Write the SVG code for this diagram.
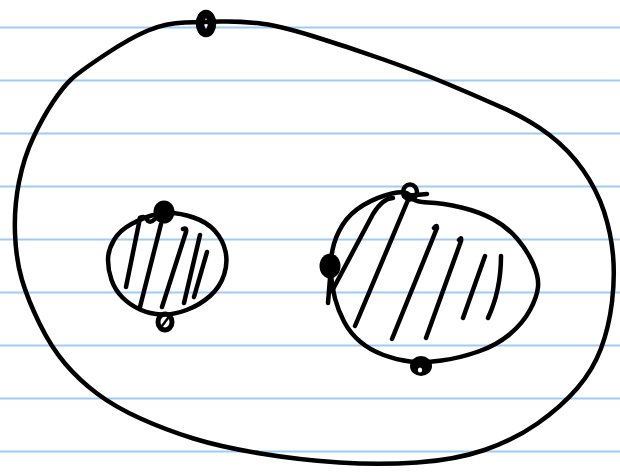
<svg xmlns="http://www.w3.org/2000/svg" width="620" height="473" viewBox="0 0 620 473">
<style>
.rule{stroke:#9fcbf5;stroke-width:1.8;fill:none}
.ink{stroke:#000;stroke-width:4.5;fill:none;stroke-linecap:round;stroke-linejoin:round}
.dot{fill:#000}
</style>
<rect width="620" height="473" fill="#fff"/>
<g id="paper-lines">
<line class="rule" x1="0" y1="27.5" x2="620" y2="27.5"/>
<line class="rule" x1="0" y1="80.5" x2="620" y2="80.5"/>
<line class="rule" x1="0" y1="133.5" x2="620" y2="133.5"/>
<line class="rule" x1="0" y1="186.5" x2="620" y2="186.5"/>
<line class="rule" x1="0" y1="239.5" x2="620" y2="239.5"/>
<line class="rule" x1="0" y1="292.5" x2="620" y2="292.5"/>
<line class="rule" x1="0" y1="345.5" x2="620" y2="345.5"/>
<line class="rule" x1="0" y1="398.5" x2="620" y2="398.5"/>
<line class="rule" x1="0" y1="451.5" x2="620" y2="451.5"/>
</g>
<g id="outer">
<path class="ink" d="M220.5,21.5 Q204,22 185,22.5 Q166,23 148,30.5 Q130,38 104.5,55 Q79,72 71,79.5 Q63,87 53,102 Q43,117 33.5,137 Q24,157 19,182 Q14,207 15,233.5 Q16,260 22,280 Q28,300 39.5,323.5 Q51,347 65,363.5 Q79,380 97,393.5 Q115,407 140.5,418.5 Q166,430 193.5,438.5 Q221,447 260.5,453.5 Q300,460 339.5,462.5 Q379,465 417,462.5 Q455,460 484.5,450 Q514,440 537.5,423.5 Q561,407 577,388.5 Q593,370 601,348.5 Q609,327 612,302 Q615,277 613,255 Q611,233 604,211.5 Q597,190 583,170 Q569,150 549.5,135 Q530,120 502,107.5 Q474,95 446.5,83.5 Q419,72 383.5,59.5 Q348,47 312.5,36 Q277,25 257,23 Q237,21 220.5,21.5 Z"/>
<ellipse cx="206" cy="23.5" rx="6" ry="9.5" fill="none" stroke="#000" stroke-width="8.5"/>
</g>
<g id="left-cell">
<path class="ink" d="M151.5,215.5 Q143,218 131.5,224 Q120,230 114,240 Q108,250 108,260 Q108,270 111.5,280 Q115,290 122.5,297.5 Q130,305 140,309.5 Q150,314 161.5,314.5 Q173,315 186.5,310 Q200,305 210,296 Q220,287 224,275 Q228,263 225.5,251.5 Q223,240 215,231 Q207,222 193.5,217.5 Q180,213 170,213 Q160,213 151.5,215.5 Z"/>
<path class="ink" d="M140,218 Q145,215 148,221 Q151,223 155,219"/>
<path class="ink" d="M140,218 L126,287"/>
<path class="ink" d="M161,224 L140,307"/>
<path class="ink" d="M183,229 Q187,227 186,232 L162,307"/>
<path class="ink" d="M200,235 L184,303"/>
<path class="ink" d="M207,252 L194,297"/>
<ellipse class="dot" cx="164" cy="212" rx="10.5" ry="11.5"/>
<ellipse cx="165" cy="322" rx="7" ry="8" fill="none" stroke="#000" stroke-width="5"/>
<path class="ink" d="M162,326 L168,318" style="stroke-width:2.5"/>
</g>
<g id="right-cell">
<path class="ink" d="M410,196 Q407,190 392,193.5 Q377,197 363.5,205 Q350,213 342.5,225 Q335,237 332.5,250 Q330,263 331,275 Q332,287 335,298.5 Q338,310 344,321.5 Q350,333 360,341.5 Q370,350 383.5,355 Q397,360 410,361.5 Q423,363 441.5,360.5 Q460,358 478.5,351.5 Q497,345 510,334 Q523,323 530,310 Q537,297 538,287 Q539,277 533,263.5 Q527,250 517,238.5 Q507,227 493.5,219.5 Q480,212 461.5,207.5 Q443,203 428,202.5 Q413,202 410,196 Z"/>
<path class="ink" d="M331,266 L328,303"/>
<path class="ink" d="M393,198 Q383,198 373,214 L332,291"/>
<path class="ink" d="M408,200 L355,326"/>
<path class="ink" d="M434,228 Q437,224 437,228 L392,339"/>
<path class="ink" d="M459,240 Q462,236 461,241 L426,338"/>
<path class="ink" d="M485,256 L463,318"/>
<path class="ink" d="M501,256 Q501,290 488,318"/>
<ellipse cx="410" cy="192" rx="7" ry="7.5" fill="none" stroke="#000" stroke-width="4.5"/>
<path class="ink" d="M404,196 L427,194"/>
<ellipse class="dot" cx="330" cy="266" rx="10.5" ry="12.5"/>
<ellipse class="dot" cx="421" cy="366" rx="11" ry="10"/>
<ellipse cx="420" cy="370" rx="2.2" ry="2.5" fill="#fff"/>
</g>
</svg>
